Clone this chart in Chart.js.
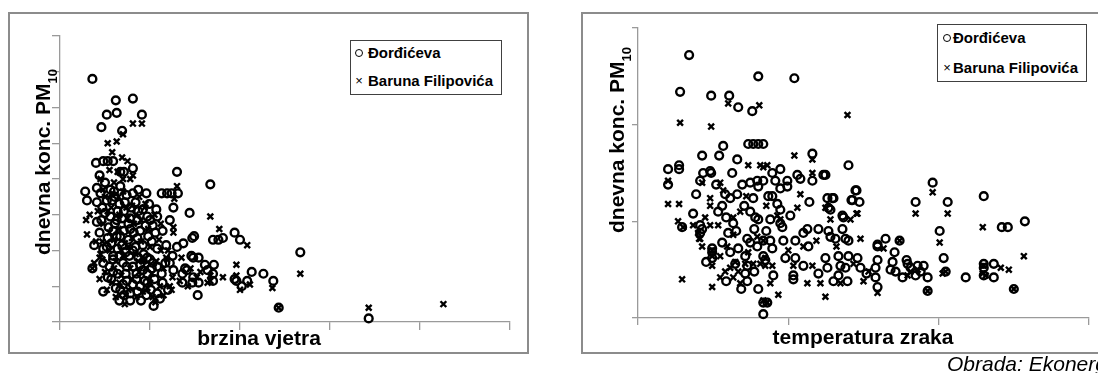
<!DOCTYPE html>
<html lang="hr">
<head>
<meta charset="utf-8">
<title>Dnevne koncentracije PM10 – brzina vjetra i temperatura zraka</title>
<script src="https://cdn.jsdelivr.net/npm/chart.js@4.4.1/dist/chart.umd.min.js"></script>
<style>
  html, body { margin: 0; padding: 0; background: #fff; width: 1098px; height: 373px; overflow: hidden; }
  body { position: relative; font-family: "Liberation Sans", Arial, sans-serif; color: #000; }
  .frame { position: absolute; border: 2px solid #8c8c8c; box-sizing: border-box; }
  #frameL { left: 8px; top: 12px; width: 521px; height: 342px; }
  #frameR { left: 581px; top: 12px; width: 540px; height: 342px; }
  canvas { position: absolute; top: 0; }
  #cL { left: 0; }
  #cR { left: 549px; }
  .legend { position: absolute; border: 1px solid #404040; background: #fff; box-sizing: border-box; }
  #legL { left: 350px; top: 40px; width: 152px; height: 55px; }
  #legR { left: 937px; top: 24px; width: 150px; height: 58px; }
  .legend span { position: absolute; white-space: nowrap; line-height: 18px; color: #000; }
  .legend .mk { width: 10px; text-align: center; font-size: 13px; font-weight: normal; }
  .legend .ring { position: absolute; width: 8px; height: 8px; border: 1px solid #000; border-radius: 50%; box-sizing: border-box; }
  .legend .tx { font-size: 15px; font-weight: bold; }
  .note { position: absolute; left: 947px; top: 353px; font-style: italic; font-size: 21px; line-height: 21px; white-space: nowrap; }
</style>
</head>
<body>
<div class="frame" id="frameL"></div>
<div class="frame" id="frameR"></div>
<canvas id="cL" width="549" height="373"></canvas>
<canvas id="cR" width="549" height="373"></canvas>

<div class="legend" id="legL">
  <div class="ring" style="left:4px;top:8px"></div><span class="tx" style="left:17px;top:3px">Đorđićeva</span>
  <span class="mk" style="left:3px;top:31px">×</span><span class="tx" style="left:17px;top:31px">Baruna Filipovića</span>
</div>
<div class="legend" id="legR">
  <div class="ring" style="left:5px;top:9px"></div><span class="tx" style="left:15px;top:4px">Đorđićeva</span>
  <span class="mk" style="left:4px;top:34px">×</span><span class="tx" style="left:15px;top:34px">Baruna Filipovića</span>
</div>
<div class="note">Obrada: Ekonerg</div>

<script>
// Station names
const stations = ['Đorđićeva', 'Baruna Filipovića'];

// Axis ranges (no tick labels are printed, only tick marks)
const windAxis = { min: 0, max: 5, step: 1 };      // m/s
const pmAxisWind = { min: 0, max: 160, step: 20 };  // µg/m3
const tempAxis = { min: -10, max: 35, step: 15 };   // °C
const pmAxisTemp = { min: 0, max: 150, step: 50 };  // µg/m3

// Daily PM10 vs wind speed – Đorđićeva  [wind, PM10]
const windDjordjiceva = [
  [0.36,136],[0.62,124],[0.81,125],[0.52,116],[0.63,117],[0.91,116],[0.46,109],[0.69,107],
  [0.40,89],[0.48,90],[0.53,90],[0.59,90],[0.81,86],[0.67,84],[0.71,84],[1.30,84],[1.67,77],
  [0.28,73],[0.30,68],[1.13,72],[1.19,72],[1.24,72],[1.31,72],[1.26,64],
  [1.70,46],[1.76,46],[1.81,47],[1.94,50],[2.00,46],[1.96,23],[2.08,23],[2.13,28],[2.26,27],
  [2.37,23],[2.02,20],[2.43,8],[2.67,39],[3.43,2],
  [1.48,36],[1.54,36],[1.71,32],[1.64,29],[1.94,24],[1.70,23],[1.47,22],[1.53,15],[1.49,48],
  [0.44,82],[0.41,75],[0.50,78],[0.56,74],[0.61,70],[0.41,67],[0.47,64],[0.50,61],[0.56,59],
  [0.64,62],[0.72,67],[0.81,72],[0.87,74],[0.96,72],[0.87,62],[0.97,59],[1.00,57],[1.07,63],
  [1.08,59],[0.86,57],[0.76,55],[0.59,51],[0.44,50],[0.52,42],[0.48,41],[0.64,41],[0.76,46],
  [0.89,51],[0.98,48],[1.06,50],[1.08,41],[1.18,43],[1.30,42],[1.37,44],[1.46,37],[0.81,40],
  [0.87,36],[0.97,36],[1.03,33],[1.22,33],[1.26,29],[1.36,27],[1.41,29],[1.48,25],[1.54,22],
  [1.36,22],[1.08,31],[0.97,27],[0.81,31],[0.70,33],[0.59,35],[0.48,33],[0.53,25],[0.64,27],
  [0.74,23],[0.81,21],[0.89,20],[1.08,16],[1.11,13],[0.70,21],[0.59,28],[0.36,30],[1.61,32],
  [1.70,27],[0.58,68],[0.67,76],[0.74,71],[0.79,64],[0.69,58],[0.61,55],[0.53,47],[0.67,48],
  [0.82,50],[0.92,43],[0.73,39],[0.59,37],[0.62,19],[0.78,16],[0.94,23],[1.01,18],[1.14,22],
  [1.20,18],[0.48,17],[0.90,12],[0.66,12],[1.14,51],[1.22,57],[1.44,61],[1.39,30],[1.47,47],
  [0.89,32],[0.41,56],[0.38,43],
  [0.45,72],[0.52,68],[0.60,73],[0.66,66],[0.71,62],[0.78,58],[0.84,67],[0.92,63],[0.99,66],
  [1.03,54],[0.46,57],[0.54,53],[0.63,57],[0.71,51],[0.78,52],[0.86,47],[0.95,54],[1.02,45],
  [0.57,44],[0.63,48],[0.69,43],[0.77,37],[0.84,42],[0.93,38],[1.00,35],[0.55,31],[0.66,37],
  [0.74,31],[0.85,27],[0.92,29],[1.02,30],[0.57,24],[0.67,18],[0.73,27],[0.85,24],[0.97,22],
  [1.05,24],[0.78,12],[0.86,17],[0.71,15],[0.96,15],[1.04,9],[1.13,27],[1.17,33],[1.25,37]
];

// Daily PM10 vs wind speed – Baruna Filipovića  [wind, PM10]
const windBarunaFilipovica = [
  [0.53,100],[0.63,101],[0.70,105],[0.81,111],[0.91,111],[0.69,92],[0.81,82],[0.64,84],
  [1.30,76],[1.27,69],[1.67,59],[0.29,57],[0.30,49],[1.77,52],[2.08,43],[1.96,32],[1.96,26],
  [2.00,18],[2.11,21],[2.36,19],[2.43,8],[2.67,27],[3.43,8],[4.26,10],[1.81,25],[1.67,26],
  [1.56,28],[1.64,22],[0.36,30],[0.94,64],[1.26,53],[1.26,50],[1.19,35],[1.11,20],[1.22,20],
  [0.47,35],[0.44,36],[1.18,36],[1.24,18],[1.67,23],
  [0.45,80],[0.55,85],[0.60,78],[0.70,73],[0.78,80],[0.88,70],[0.50,70],[0.42,62],[0.57,64],
  [0.66,60],[0.75,58],[0.84,60],[0.95,66],[1.05,60],[1.12,55],[0.48,55],[0.55,50],[0.65,52],
  [0.72,44],[0.80,47],[0.90,45],[1.00,42],[1.10,46],[1.20,40],[0.40,45],[0.45,38],[0.55,40],
  [0.62,34],[0.70,37],[0.78,30],[0.87,34],[0.95,30],[1.02,27],[1.15,30],[1.25,25],[1.33,23],
  [1.42,20],[0.50,28],[0.58,22],[0.68,26],[0.76,18],[0.85,14],[0.92,17],[1.00,22],[1.06,11],
  [1.15,15],[0.52,18],[0.62,14],[0.72,10],[0.44,24],[0.38,33],[1.35,36],[1.45,30],[1.52,25],
  [0.33,60],[0.75,90],[0.58,95],
  [0.48,74],[0.58,72],[0.65,70],[0.74,64],[0.82,55],[0.90,57],[0.98,52],[0.60,46],[0.68,40],
  [0.76,42],[0.84,38],[0.93,34],[0.60,30],[0.66,22],[0.73,15],[0.80,24],[0.88,28],[0.97,19],
  [1.07,34],[1.12,40],[0.53,62],[0.47,45],[0.80,65],[0.70,80],[1.03,14]
];

// Daily PM10 vs air temperature – Đorđićeva  [temperature, PM10]
const tempDjordjiceva = [
  [-4.9,136],[-5.8,117],[-2.7,115],[-0.9,115],[0.0,109],[1.4,107],[2.0,125],[5.6,124],
  [-1.5,89],[1.0,90],[1.5,90],[2.0,90],[2.5,90],[-3.6,84],[-1.9,84],[-0.1,82],[7.4,85],
  [-7.0,77],[-5.9,79],[-5.9,77],[-7.0,69],[-3.5,75],[-2.8,76],[-2.7,75],[-3.8,71],[-0.6,75],
  [0.4,69],[1.2,70],[1.9,71],[2.5,71],[2.0,68],[3.0,63],[-1.3,64],[-0.8,62],[-0.1,64],
  [-1.6,58],[-2.0,55],[-4.5,54],[1.2,55],[1.7,52],[2.0,51],[-0.5,49],[-1.0,44],[-3.8,48],
  [-3.6,46],[-3.8,44],[-5.6,47],[0.9,41],[1.2,39],[1.9,37],[2.5,40],[0.0,36],[-0.8,34],
  [-2.6,36],[-2.6,34],[-2.6,31],[0.7,32],[0.9,27],[0.7,23],[0.9,19],[2.5,32],[2.7,30],
  [2.5,8],[2.5,2],
  [4.2,77],[3.4,75],[5.9,74],[6.2,72],[7.4,71],[8.7,74],[3.7,71],[4.9,71],[4.2,67],[4.9,68],
  [3.4,63],[7.1,60],[8.9,62],[9.4,62],[11.8,66],[11.4,61],[12.1,60],[9.0,57],[9.2,56],
  [10.4,53],[3.9,59],[4.2,56],[5.2,53],[3.2,51],[4.2,49],[4.4,47],[6.9,46],[6.5,44],[8.0,46],
  [9.0,45],[9.2,42],[10.4,46],[9.7,41],[10.7,41],[11.0,40],[3.2,40],[4.5,40],[5.7,40],
  [3.4,36],[4.7,31],[5.7,31],[7.0,37],[8.7,31],[8.9,26],[10.0,32],[11.0,32],[10.2,27],
  [10.7,26],[11.9,31],[12.2,26],[13.9,37],[13.9,30],[13.7,26],[13.9,16],[5.5,22],[5.5,20],
  [9.5,19],[10.9,19],[2.9,8],
  [11.0,79],[8.5,74],[11.7,66],[11.3,61],[9.5,62],[10.5,52],[19.4,70],[17.7,60],[20.9,60],
  [24.5,63],[28.6,50],[26.3,47],[26.9,47],[20.1,45],[14.7,41],[13.9,38],[16.1,40],[15.6,34],
  [20.5,31],[20.7,24],[22.7,21],[24.5,28],[24.5,26],[25.5,28],[24.5,22],[25.5,21],[27.5,15],
  [18.9,14],[15.2,25],[15.7,24],[16.4,21],[16.8,30],[16.9,28],[17.2,26],[17.9,27],[18.5,27],
  [18.2,24],[17.7,22],[18.9,21],[15.4,29],[13.7,21],
  [-4.2,64],[-2.2,69],[-1.2,52],[0.6,58],[1.5,62],[-0.2,45],[1.6,46],[-1.6,39],[2.8,45],
  [-0.3,28],[1.6,24],[-3.2,29],[-1.2,19],[2.0,15],[0.3,15],[3.5,22],[6.5,27],[8.0,23],
  [10.0,22],[12.8,23]
];

// Daily PM10 vs air temperature – Baruna Filipovića  [temperature, PM10]
const tempBarunaFilipovica = [
  [-1.0,111],[2.1,110],[-5.8,101],[-2.7,99],[5.6,84],[7.4,82],[10.9,105],[1.0,79],[2.2,79],
  [2.9,79],[-1.8,70],[-3.6,70],[-7.0,59],[-5.9,59],[-7.0,71],[-2.8,62],[-2.8,58],[0.2,55],
  [-3.3,52],[-4.5,48],[-2.0,48],[-0.5,52],[-4.0,44],[-3.8,41],[-3.6,37],[-1.1,37],[-2.6,27],
  [-0.8,26],[-0.3,29],[0.0,24],[-1.3,24],[-1.8,21],[-0.5,21],[-5.6,20],[-2.6,16],[0.7,28],
  [1.5,28],[2.2,28],[1.9,42],[2.5,40],[2.5,9],[2.9,8],[2.5,78],[7.4,75],[6.2,64],[5.9,57],
  [8.7,57],[11.9,54],[11.2,51],[3.9,53],[4.2,51],[9.2,51],[12.2,41],[6.5,37],[2.7,31],
  [3.4,27],[5.5,27],[7.4,27],[2.7,27],[6.9,18],[8.2,18],[10.2,18],[8.7,11],[11.8,54],
  [17.7,54],[20.9,54],[19.4,65],[20.1,39],[24.4,47],[28.5,32],[26.2,26],[27.0,25],[24.4,23],
  [24.7,22],[13.9,13],[14.5,36],[16.9,22],[17.9,25],[20.4,23],[-6.0,50],[-5.5,47],[-2.8,48],
  [-3.9,41],[-2.6,35],[-2.6,32],[16.1,40],[20.7,24],[18.9,14],[27.5,15],[17.2,24],[24.5,27],
  [-1.5,66],[0.8,63],[2.8,58],[-0.5,43],[1.0,34],[-1.8,32],[0.2,18],[3.2,18],[5.0,35],
  [7.8,40],[9.8,37],[11.5,28],[13.0,24],[12.5,19],[4.0,12]
];

// Axis titles drawn on the canvas (the y title carries a subscript)
const axisTitles = {
  id: 'axisTitles',
  afterDraw(chart, args, opts) {
    const ctx = chart.ctx;
    const main = 'bold 21px "Liberation Sans", Arial, sans-serif';
    const sub = 'bold 13px "Liberation Sans", Arial, sans-serif';
    for (const t of opts.items || []) {
      ctx.save();
      ctx.translate(t.x, t.y);
      if (t.vertical) ctx.rotate(-Math.PI / 2);
      ctx.fillStyle = '#000';
      ctx.textAlign = 'left';
      ctx.textBaseline = 'alphabetic';
      ctx.font = main;
      const w1 = ctx.measureText(t.text).width;
      let w2 = 0;
      if (t.sub) { ctx.font = sub; w2 = ctx.measureText(t.sub).width; }
      const x0 = -(w1 + w2) / 2;
      ctx.font = main;
      ctx.fillText(t.text, x0, 0);
      if (t.sub) { ctx.font = sub; ctx.fillText(t.sub, x0 + w1, 7); }
      ctx.restore();
    }
  }
};

function axisScale(range, tickLength, fitSize, vertical) {
  return {
    type: 'linear',
    min: range.min,
    max: range.max,
    ticks: { stepSize: range.step, display: false },
    grid: { drawOnChartArea: false, drawTicks: true, tickLength: tickLength, color: '#9a9a9a', lineWidth: 1.3 },
    border: { display: true, color: '#9a9a9a', width: 1.3 },
    afterFit(scale) { if (vertical) scale.width = fitSize; else scale.height = fitSize; }
  };
}

function pmScatter(canvasId, circles, crosses, xRange, yRange, cfg) {
  return new Chart(document.getElementById(canvasId), {
    type: 'scatter',
    data: {
      datasets: [
        {
          label: stations[0],
          data: circles.map(p => ({ x: p[0], y: p[1] })),
          pointStyle: 'circle',
          pointRadius: 3.9,
          pointBorderWidth: 2.4,
          pointBackgroundColor: 'rgba(0,0,0,0)',
          pointBorderColor: '#000',
          clip: false
        },
        {
          label: stations[1],
          data: crosses.map(p => ({ x: p[0], y: p[1] })),
          pointStyle: 'crossRot',
          pointRadius: 4.1,
          pointBorderWidth: 2.4,
          pointBorderColor: '#000',
          clip: false
        }
      ]
    },
    options: {
      responsive: false,
      animation: false,
      devicePixelRatio: 1,
      events: [],
      layout: { autoPadding: false, padding: cfg.padding },
      plugins: {
        legend: { display: false },
        tooltip: { enabled: false },
        axisTitles: { items: cfg.titles }
      },
      scales: {
        x: axisScale(xRange, cfg.xTick, cfg.xFit, false),
        y: axisScale(yRange, cfg.yTick, 40, true)
      }
    },
    plugins: [axisTitles]
  });
}

pmScatter('cL', windDjordjiceva, windBarunaFilipovica, windAxis, pmAxisWind, {
  padding: { left: 20, right: 39, top: 36, bottom: 21 },
  xTick: 8, yTick: 8, xFit: 30,
  titles: [
    { text: 'dnevna konc. PM', sub: '10', x: 50, y: 162, vertical: true },
    { text: 'brzina vjetra', x: 259, y: 345 }
  ]
});

pmScatter('cR', tempDjordjiceva, tempBarunaFilipovica, tempAxis, pmAxisTemp, {
  padding: { left: 49, right: 9, top: 28, bottom: 25 },
  xTick: 7, yTick: 6, xFit: 30,
  titles: [
    { text: 'dnevna konc. PM', sub: '10', x: 75, y: 140, vertical: true },
    { text: 'temperatura zraka', x: 314, y: 344 }
  ]
});
</script>
</body>
</html>
